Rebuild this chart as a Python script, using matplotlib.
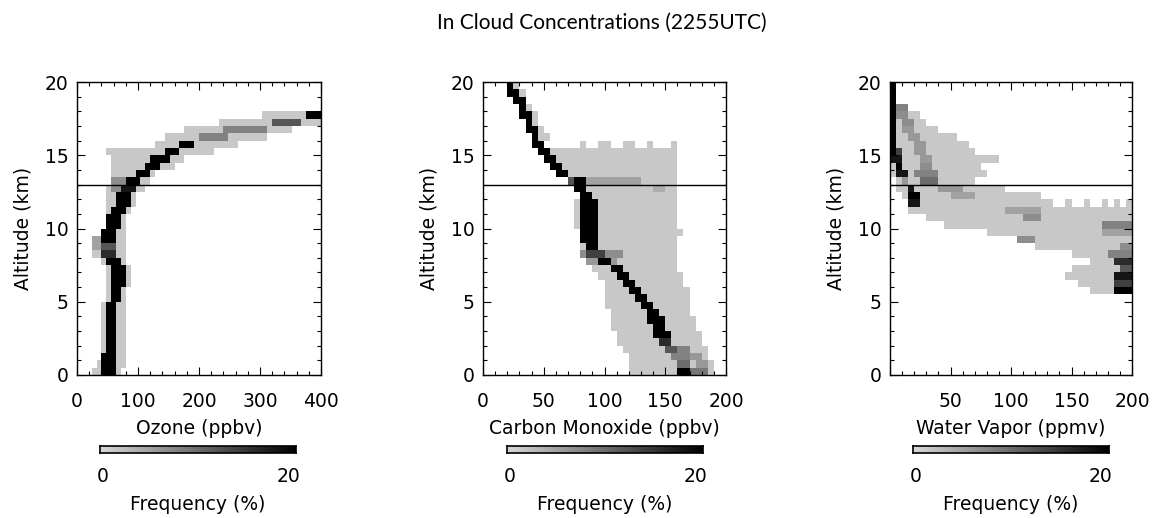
"""
In-cloud concentration frequency profiles (ozone, CO, water vapour).
Saves out.png.
"""

import numpy as np
import matplotlib
matplotlib.use("Agg")
import matplotlib.pyplot as plt
from matplotlib.colors import LinearSegmentedColormap
from matplotlib.ticker import MultipleLocator

W, H = 1156, 518
BASE = 1.5      # lightest occupied cell (%)
DZ = 0.5        # altitude bin (km)

TITLE = "In Cloud Concentrations (2255UTC)"
TROPOPAUSE_KM = 13.0

# ---------------- Ozone (ppbv) ----------------
o3_alt = np.arange(0, 18, 0.5)
o3_lo = [30, 35, 40, 40, 45, 45, 45, 45, 45, 45, 48, 48, 48, 48, 48, 40, 30, 30,
         30, 40, 48, 48, 50, 55, 55, 55, 56, 56, 56, 56, 48, 136, 150, 179, 234, 310]
o3_hi = [68, 75, 78, 78, 80, 80, 80, 80, 80, 80, 80, 80, 85, 88, 88, 80, 78, 78,
         78, 78, 78, 78, 82, 90, 95, 105, 115, 125, 160, 170, 223, 261, 305, 350, 400, 400]
o3_dlo = [40, 42, 45, 48, 54, 54, 54, 54, 54, 54, 56, 56, 56, 56, 56, 50, 45, 45,
          40, 45, 50, 52, 58, 64, 70, 78, 86, 100, 115, 125, 150, 175, 200, 245, 320, 380]
o3_dhi = [62, 62, 62, 62, 64, 64, 64, 64, 64, 64, 70, 70, 78, 78, 78, 72, 64, 60,
          60, 62, 66, 70, 76, 82, 86, 94, 100, 118, 130, 145, 168, 190, 245, 310, 365, 400]
o3_dpct = [20, 20, 20, 20, 20, 20, 20, 20, 20, 20, 20, 20, 20, 20, 20, 20, 16, 12,
           20, 20, 20, 20, 20, 20, 20, 18, 20, 20, 20, 20, 20, 20, 8, 8, 12, 20]
o3_p_alt = [12.5, 13.0, 8.5, 9.0, 15.5]
o3_p_x0 = [56, 56, 30, 30, 130]
o3_p_x1 = [80, 80, 45, 40, 136]
o3_p_pct = [7, 7, 5, 5, 1.5]

# ---------------- Carbon monoxide (ppbv) ----------------
co_alt = np.arange(0, 20, 0.5)
co_lo = [124, 124, 121, 118, 113, 113, 109, 109, 109, 104, 104, 100, 100, 96, 94, 88,
         84, 82, 80, 80, 79, 79, 79, 79, 80, 78, 71, 63, 56, 50, 47, 43, 40, 38, 35, 33,
         30, 27, 24, 21]
co_hi = [187, 187, 185, 182, 177, 177, 173, 173, 170, 170, 167, 167, 163, 163, 159, 159,
         159, 159, 159, 163, 159, 159, 159, 159, 159, 159, 159, 159, 159, 159, 159, 50,
         52, 48, 45, 42, 38, 35, 32, 28]
co_dlo = [160, 160, 158, 150, 146, 143, 141, 139, 135, 132, 126, 121, 115, 110, 105, 96,
          88, 85, 84, 84, 84, 84, 84, 84, 82, 79, 77, 63, 56, 50, 47, 43, 40, 38, 35, 33,
          30, 27, 24, 21]
co_dhi = [168, 170, 168, 157, 153, 151, 149, 146, 144, 140, 135, 129, 124, 118, 112, 102,
          98, 95, 93, 93, 93, 93, 93, 93, 88, 85, 81, 69, 62, 56, 52, 48, 45, 42, 39, 37,
          34, 31, 28, 25]
co_dpct = [20, 10, 8, 12, 16, 20, 20, 20, 20, 20, 20, 20, 20, 20, 20, 20,
           14, 20, 20, 20, 20, 20, 20, 20, 20, 20, 20, 20, 20, 20, 20, 20,
           20, 20, 20, 20, 20, 20, 20, 20]
co_p_alt = [13.0, 13.0, 12.5, 8.0, 7.5, 1.5, 1.0, 0.5, 0.0, 10.5, 11.0,
            15.5, 15.5, 15.5, 15.5, 15.5]
co_p_x0 = [85, 71, 143, 84, 88, 157, 168, 175, 170, 80, 80, 80, 95, 115, 135, 155]
co_p_x1 = [130, 75, 150, 115, 110, 167, 178, 182, 185, 84, 84, 85, 105, 125, 140, 160]
co_p_pct = [5, 12, 4, 7, 6, 8, 6, 6, 9, 5, 5, 1.5, 1.5, 1.5, 1.5, 1.5]

# ---------------- Water vapour (ppmv) ----------------
h2o_alt = np.arange(5.5, 20, 0.5)
h2o_lo = [165, 155, 148, 150, 168, 151, 124, 109, 80, 48, 31, 19, 17, 12, 8, 5,
          3, 1, 0, 0, 0, 0, 0, 0, 0, 0, 0, 0, 0]
h2o_hi = [200, 200, 200, 200, 200, 200, 200, 200, 200, 200, 200, 200, 135, 124, 91, 66,
          80, 72, 88, 69, 61, 51, 36, 28, 22, 14, 5, 5, 5]
h2o_dlo = [185, 185, 185, 190, 185, 180, 190, 105, 175, 175, 112, 95, 19, 19, 15, 10,
           5, 5, 0, 0, 0, 0, 0, 0, 0, 0, 0, 0, 0]
h2o_dhi = [200, 200, 200, 200, 200, 200, 200, 120, 200, 200, 122, 125, 24, 24, 20, 15,
           12, 10, 10, 5, 5, 5, 5, 5, 5, 5, 5, 5, 5]
h2o_dpct = [20, 14, 18, 12, 16, 8, 7, 7, 5, 8, 7, 5, 18, 20, 18, 6,
            18, 20, 18, 20, 20, 20, 20, 20, 20, 20, 20, 20, 20]
h2o_p_alt = [18.0, 17.5, 17.0, 16.5, 16.0, 15.5, 15.0, 14.5, 14.0, 13.5, 13.0, 12.5,
             12.0, 15.0, 11.5, 11.5, 11.5, 11.5, 11.5]
h2o_p_x0 = [5, 8, 10, 14, 18, 22, 24, 26, 25, 22, 28, 40, 50, 5, 145, 160, 175, 185, 195]
h2o_p_x1 = [12, 14, 16, 20, 24, 28, 30, 32, 35, 36, 40, 60, 70, 10, 150, 165, 180, 190, 200]
h2o_p_pct = [8, 7, 7, 6, 6, 6, 6, 6, 7, 8, 10, 6, 5, 14, 1.5, 1.5, 1.5, 1.5, 1.5]


def fx(px):
    return px / W


def fy(py):
    return 1 - py / H


def build_grid(x_edges, alt, lo, hi, dlo, dhi, dpct, p_alt, p_x0, p_x1, p_pct):
    z = np.zeros((int(round(20 / DZ)), len(x_edges) - 1))
    xl, xr = x_edges[:-1], x_edges[1:]

    def fill(a, x0, x1, v):
        i = int(round(a / DZ))
        m = (xr > x0) & (xl < x1)
        z[i, m] = np.maximum(z[i, m], v)

    for a, l, h, d0, d1, dp in zip(alt, lo, hi, dlo, dhi, dpct):
        fill(a, l, h, BASE)
        if dp > 0:
            fill(a, d0, d1, dp)
    for a, x0, x1, v in zip(p_alt, p_x0, p_x1, p_pct):
        fill(a, x0, x1, v)
    return np.ma.masked_where(z == 0, z)


cmap = LinearSegmentedColormap.from_list("freq", ["#d8d8d8", "#000000"])
plt.rcParams["font.family"] = "DejaVu Sans"

fig = plt.figure(figsize=(W / 100, H / 100), dpi=100)
fig.text(fx(602), fy(23), TITLE, ha="center", va="center", fontsize=15, family="Lato")

panels = [
    dict(box=(77, 82, 321, 375), xmax=400, xstep=8, major=100, minor=20,
         labels=["0", "100", "200", "300", "400"], xlabel="Ozone (ppbv)",
         grid=(o3_alt, o3_lo, o3_hi, o3_dlo, o3_dhi, o3_dpct, o3_p_alt, o3_p_x0, o3_p_x1, o3_p_pct),
         cbar=(100, 296)),
    dict(box=(483, 82, 726, 375), xmax=200, xstep=5, major=50, minor=10,
         labels=["0", "50", "100", "150", "200"], xlabel="Carbon Monoxide (ppbv)",
         grid=(co_alt, co_lo, co_hi, co_dlo, co_dhi, co_dpct, co_p_alt, co_p_x0, co_p_x1, co_p_pct),
         cbar=(507, 703)),
    dict(box=(890, 82, 1132, 375), xmax=200, xstep=5, major=50, minor=10,
         labels=["", "50", "100", "150", "200"], xlabel="Water Vapor (ppmv)",
         grid=(h2o_alt, h2o_lo, h2o_hi, h2o_dlo, h2o_dhi, h2o_dpct, h2o_p_alt, h2o_p_x0, h2o_p_x1, h2o_p_pct),
         cbar=(913, 1109)),
]

for p in panels:
    x0, y0, x1, y1 = p["box"]
    ax = fig.add_axes([fx(x0), fy(y1), fx(x1) - fx(x0), fy(y0) - fy(y1)])
    x_edges = np.arange(0, p["xmax"] + p["xstep"], p["xstep"])
    y_edges = np.arange(0, 20 + DZ, DZ)
    z = build_grid(x_edges, *p["grid"])
    ax.pcolormesh(x_edges, y_edges, z, cmap=cmap, vmin=0, vmax=20)
    ax.axhline(TROPOPAUSE_KM, color="black", lw=1)
    ax.set_xlim(0, p["xmax"])
    ax.set_ylim(0, 20)

    ax.set_xticks(np.arange(0, p["xmax"] + 1, p["major"]))
    ax.set_xticklabels(p["labels"])
    ax.xaxis.set_minor_locator(MultipleLocator(p["minor"]))
    ax.set_yticks([0, 5, 10, 15, 20])
    ax.yaxis.set_minor_locator(MultipleLocator(1))
    ax.tick_params(which="both", direction="in", top=True, right=True, width=0.8)
    ax.tick_params(which="major", length=6, labelsize=13.5)
    ax.tick_params(which="minor", length=3)
    ax.tick_params(axis="x", which="major", pad=12)
    ax.tick_params(axis="y", which="major", pad=6)
    for s in ax.spines.values():
        s.set_linewidth(1)

    fig.text(fx(x0 - 54), fy((y0 + y1) / 2), "Altitude (km)", rotation=90,
             ha="center", va="center", fontsize=13.5)
    fig.text(fx((x0 + x1) / 2), fy(428), p["xlabel"], ha="center", va="center",
             fontsize=13.5)

    c0, c1 = p["cbar"]
    cax = fig.add_axes([fx(c0), fy(453), fx(c1) - fx(c0), fy(446) - fy(453)])
    cax.imshow(np.linspace(0, 20, 256)[None, :], aspect="auto", cmap=cmap,
               vmin=0, vmax=20, extent=[0, 20, 0, 1])
    cax.set_xticks([])
    cax.set_yticks([])
    for s in cax.spines.values():
        s.set_linewidth(1.2)
    fig.text(fx(c0 + 3), fy(477), "0", ha="center", va="center", fontsize=13.5)
    fig.text(fx(c1 - 8), fy(477), "20", ha="center", va="center", fontsize=13.5)
    fig.text(fx((c0 + c1) / 2), fy(504), "Frequency (%)", ha="center", va="center",
             fontsize=13.5)

fig.savefig("out.png", dpi=100)
